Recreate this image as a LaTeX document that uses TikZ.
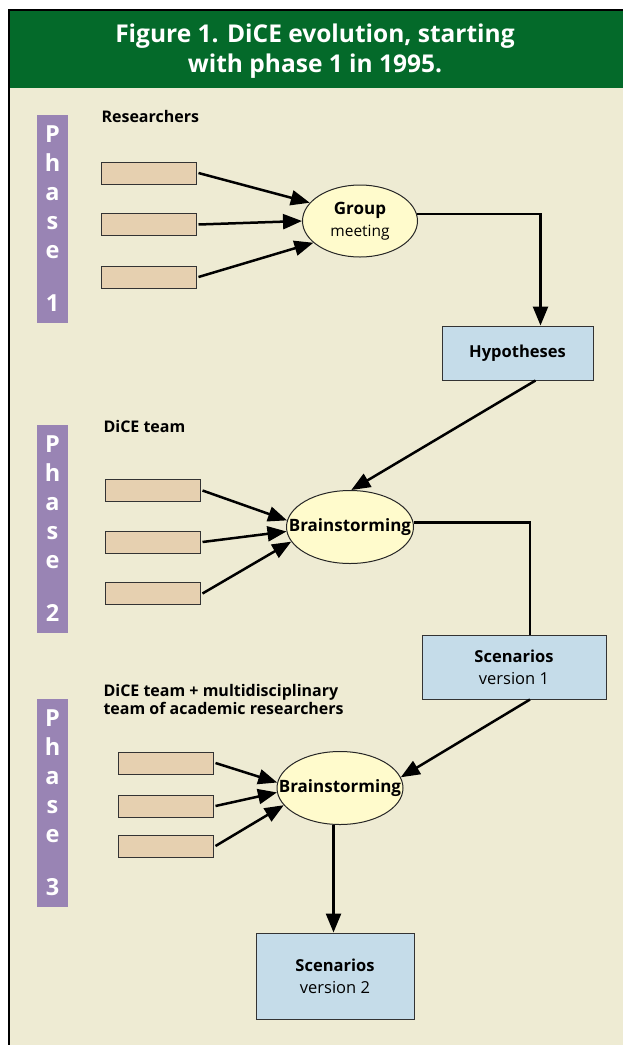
\documentclass[tikz,border=0pt]{standalone}
\usepackage{fontspec}
\setmainfont{Open Sans}
\usetikzlibrary{arrows.meta,shapes.geometric,calc}
\definecolor{bgc}{HTML}{EEEBD3}
\definecolor{hdr}{HTML}{046A2A}
\definecolor{phc}{HTML}{9984B4}
\definecolor{tanc}{HTML}{E6D0B0}
\definecolor{ylw}{HTML}{FFFBCC}
\definecolor{blu}{HTML}{C5DCE9}
\tikzset{
  phasebar/.style={rectangle, fill=phc, minimum width=31pt, minimum height=208pt, inner sep=0pt,
    text=white, align=center, font=\bfseries\fontsize{23.5}{29}\selectfont},
  inbox/.style={rectangle, draw=black!80, fill=tanc, line width=1pt, minimum width=95pt, minimum height=22pt, inner sep=0pt},
  ell/.style={ellipse, draw=black!85, fill=ylw, line width=1pt, inner sep=0pt},
  etext/.style={align=center, inner sep=0pt, font=\fontsize{15.5}{22}\selectfont},
  bbox/.style={rectangle, draw=black!80, fill=blu, line width=1pt, inner sep=0pt, align=center, font=\fontsize{16.5}{22}\selectfont},
  lbl/.style={anchor=west, align=left, font=\bfseries\fontsize{16}{18}\selectfont},
  arr/.style={line width=2.5pt, -{Triangle[length=19pt,width=15pt]}},
  ln/.style={line width=2.5pt},
}
\newcommand{\bbig}[1]{{\bfseries\fontsize{17}{22}\selectfont #1}}
\begin{document}
\begin{tikzpicture}[x=1pt,y=-1pt]
\useasboundingbox (0,0) rectangle (623,1045);
\fill[white] (0,0) rectangle (623,1045);
\fill[bgc] (8,9) rectangle (623,1045);
\fill[hdr] (8,9) rectangle (623,88);
\draw[line width=2pt] (9,1045) -- (9,10) -- (623,10);
\node[text=white, align=center, font=\bfseries\fontsize{24.5}{30}\selectfont] (title) at (315,51)
  {Figure 1. DiCE evolution, starting\\with phase 1 in 1995.};

% phase bars
\node[phasebar] (ph1) at (52.5,219) {P\\h\\a\\s\\e\\[24pt]1};
\node[phasebar] (ph2) at (52.5,529) {P\\h\\a\\s\\e\\[24pt]2};
\node[phasebar] (ph3) at (52.5,803) {P\\h\\a\\s\\e\\[24pt]3};

% labels
\node[lbl] (l1) at (98,116) {Researchers};
\node[lbl] (l2) at (100,426) {DiCE team};
\node[lbl] (l3) at (100,699) {DiCE team + multidisciplinary\\team of academic researchers};

% phase 1
\node[inbox] (r11) at (148.5,173) {};
\node[inbox] (r12) at (148.5,224.5) {};
\node[inbox] (r13) at (148.5,277) {};
\node[ell, minimum width=115pt, minimum height=72pt] (gm) at (360,221) {};
\node[etext] (gmt) at (gm) {\bbig{Group}\\meeting};
\node[bbox, minimum width=151pt, minimum height=54pt] (hyp) at (517.5,353)
  {\textbf{Hypotheses}};

% phase 2
\node[inbox] (r21) at (152.5,490.5) {};
\node[inbox] (r22) at (152.5,542) {};
\node[inbox] (r23) at (152.5,593.5) {};
\node[ell, minimum width=127pt, minimum height=73pt] (b1) at (350,527) {};
\node[etext] (b1t) at (b1) {\bbig{Brainstorming}};
\node[bbox, minimum width=184pt, minimum height=64pt] (s1) at (514,667)
  {\textbf{Scenarios}\\version 1};

% phase 3
\node[inbox] (r31) at (165.5,763) {};
\node[inbox] (r32) at (165.5,806) {};
\node[inbox] (r33) at (165.5,846) {};
\node[ell, minimum width=126pt, minimum height=73pt] (b2) at (340,788) {};
\node[etext] (b2t) at (b2) {\bbig{Brainstorming}};
\node[bbox, minimum width=158pt, minimum height=86pt] (s2) at (335,976)
  {\textbf{Scenarios}\\version 2};

% connectors phase 1
\draw[arr] ($(r11.east)+(2,0)$) -- (gm.160);
\draw[arr] ($(r12.east)+(2,0)$) -- (gm.180);
\draw[arr] ($(r13.east)+(2,0)$) -- (gm.205);
\draw[arr] (gm.7) -| ($(hyp.north)+(23,0)$);
\draw[arr] ($(hyp.south)+(18,0)$) -- (b1.88);

% phase 2
\draw[arr] ($(r21.east)+(2,0)$) -- (b1.174);
\draw[arr] ($(r22.east)+(2,0)$) -- (b1.184);
\draw[arr] ($(r23.east)+(2,0)$) -- (b1.194);
\draw[ln] (b1.4) -| ($(s1.north)+(16,0)$);
\draw[arr] ($(s1.south)+(16,0)$) -- (b2.10);

% phase 3
\draw[arr] ($(r31.east)+(2,0)$) -- (b2.175);
\draw[arr] ($(r32.east)+(2,0)$) -- (b2.184);
\draw[arr] ($(r33.east)+(2,0)$) -- (b2.197);
\draw[arr] (b2.260) -- (b2.260 |- s2.north);
\end{tikzpicture}
\end{document}
